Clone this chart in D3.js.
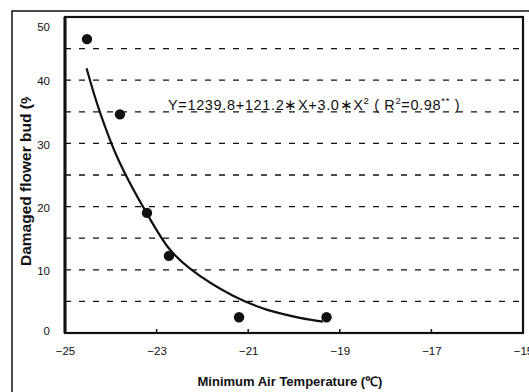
<!DOCTYPE html>
<html><head><meta charset="utf-8">
<script src="https://cdn.jsdelivr.net/npm/d3@7/dist/d3.min.js"></script>
<style>body{margin:0;background:#fff}svg{display:block}text{font-family:"Liberation Sans",Arial,sans-serif;fill:#111}</style>
</head><body><svg id="c" width="529" height="392"></svg>
<script>
// observed data
const tempX = [-24.52, -23.8, -23.21, -22.73, -21.2, -19.29];
const damageY = [46.5, 34.6, 19.0, 12.2, 2.5, 2.5];
// fitted curve
const fitX = [-24.53, -24.24, -23.84, -23.22, -22.71, -22.27, -21.33, -20.60, -19.87, -19.37];
const fitY = [41.9, 35.0, 27.5, 19.0, 13.2, 10.2, 5.9, 3.7, 2.4, 1.8];
const xTicks = [-25, -23, -21, -19, -17, -15];
const yTicks = [0, 10, 20, 30, 40, 50];
const gridVals = [5, 10, 15, 20, 25, 30, 35, 40, 45];

const svg = d3.select("#c");
const L = 65, T = 17, R = 523, B = 333;
const x = d3.scaleLinear().domain([-25, -15]).range([L, R]);
const y = d3.scaleLinear().domain([0, 50]).range([B, T]);

// outer frame
svg.append("rect").attr("x", 12).attr("y", 11).attr("width", 600).attr("height", 500)
  .attr("fill", "none").attr("stroke", "#111").attr("stroke-width", 1.5);

// grid
svg.append("g").selectAll("line").data(gridVals).join("line")
  .attr("x1", L).attr("x2", R).attr("y1", d => y(d)).attr("y2", d => y(d))
  .attr("stroke", "#111").attr("stroke-width", 1.3).attr("stroke-dasharray", "6,8");

// x ticks (inside)
svg.append("g").selectAll("line").data(xTicks.slice(1, -1)).join("line")
  .attr("x1", d => x(d)).attr("x2", d => x(d)).attr("y1", B).attr("y2", B - 4)
  .attr("stroke", "#111").attr("stroke-width", 1.5);

// plot border
svg.append("rect").attr("x", L).attr("y", T).attr("width", R - L).attr("height", B - T)
  .attr("fill", "none").attr("stroke", "#111").attr("stroke-width", 2.2);
svg.append("line").attr("x1", L).attr("x2", L).attr("y1", T).attr("y2", B)
  .attr("stroke", "#111").attr("stroke-width", 3);

// axes labels
const xa = svg.append("g").attr("transform", `translate(0,${B})`)
  .call(d3.axisBottom(x).tickValues(xTicks).tickSize(0).tickPadding(14).tickFormat(d => "\u2212" + Math.abs(d)));
xa.select(".domain").remove();
xa.selectAll("text").style("font-size", "11.5px").style("font-family", '"Liberation Sans",Arial,sans-serif').attr("fill", "#111");

const ya = svg.append("g").attr("transform", `translate(${L},0)`)
  .call(d3.axisLeft(y).tickValues(yTicks).tickSize(0).tickPadding(15));
ya.select(".domain").remove();
ya.selectAll("text").style("font-size", "11.5px").style("font-family", '"Liberation Sans",Arial,sans-serif').attr("fill", "#111")
  .attr("dy", d => d === 50 ? "1.2em" : d === 0 ? "0.1em" : "0.4em");

// fitted curve
const line = d3.line().x((d, i) => x(fitX[i])).y((d, i) => y(fitY[i])).curve(d3.curveCatmullRom);
svg.append("path").datum(fitX).attr("d", line).attr("fill", "none")
  .attr("stroke", "#111").attr("stroke-width", 2.2);

// points
svg.append("g").selectAll("circle").data(tempX).join("circle")
  .attr("cx", d => x(d)).attr("cy", (d, i) => y(damageY[i])).attr("r", 5.2).attr("fill", "#111");

// equation
const eq = svg.append("text").attr("x", 168).attr("y", 110).style("font-size", "14.5px").style("letter-spacing", "0.65px");
eq.append("tspan").text("Y=1239.8+121.2\u2217X+3.0\u2217X");
eq.append("tspan").attr("dy", -6).style("font-size", "9.5px").text("2");
eq.append("tspan").attr("dy", 6).text(" ( R");
eq.append("tspan").attr("dy", -6).style("font-size", "9.5px").text("2");
eq.append("tspan").attr("dy", 6).text("=0.98");
eq.append("tspan").attr("dy", -6).style("font-size", "9.5px").text("**");
eq.append("tspan").attr("dy", 6).text(" )");

// axis titles
svg.append("text").attr("x", 290).attr("y", 386).attr("text-anchor", "middle")
  .style("font-size", "13px").style("font-weight", "bold").text("Minimum Air Temperature (\u2103)");

svg.append("clipPath").attr("id", "yc").append("rect").attr("x", 0).attr("y", 97).attr("width", 60).attr("height", 250);
svg.append("g").attr("clip-path", "url(#yc)").append("text")
  .attr("transform", "translate(31,266) rotate(-90)").attr("text-anchor", "start")
  .style("font-size", "15.5px").style("font-weight", "bold").text("Damaged flower bud (%)");
</script></body></html>
